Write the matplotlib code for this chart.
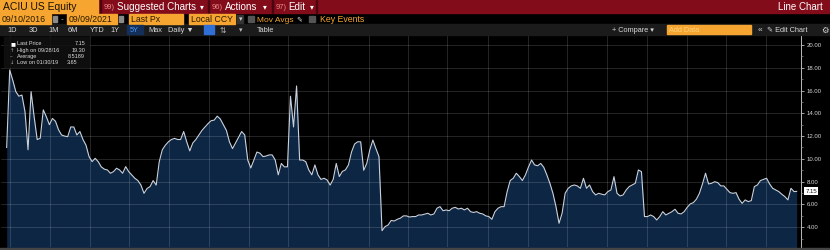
import matplotlib
matplotlib.use('Agg')
import matplotlib.pyplot as plt
import matplotlib.dates as mdates
from matplotlib.patches import Rectangle
from matplotlib.ticker import MultipleLocator
import pandas as pd

plt.rcParams['font.family'] = ['Liberation Sans', 'DejaVu Sans']

W, H = 830, 250

# weekly closes (Fridays), from IPO week to the last full week
weekly_close = [
    11.0, 17.8, 16.9, 15.9, 15.5, 15.6, 14.15, 10.8, 15.9, 13.7,
    11.7, 11.8, 14.3, 13.7, 13.0, 13.55, 13.3, 12.55, 12.1, 12.0,
    11.95, 12.8, 12.8, 12.1, 12.4, 11.7, 11.2, 10.2, 9.76, 10.05,
    9.76, 9.3, 9.1, 9.03, 8.74, 8.88, 9.18, 9.03, 8.74, 9.32,
    8.88, 8.59, 8.3, 8.1, 7.7, 6.98, 7.4, 7.57, 8.1, 7.7,
    9.76, 10.8, 11.2, 11.5, 11.7, 11.8, 11.7, 11.7, 12.4, 11.5,
    10.7, 11.4, 11.7, 12.1, 12.5, 12.8, 13.1, 13.35, 13.4, 13.75,
    13.5, 13.0, 12.5, 11.5, 10.9, 11.4, 11.9, 12.4, 12.1, 9.9,
    9.2, 9.9, 10.6, 10.5, 10.2, 10.25, 10.35, 10.35, 9.9, 8.6,
    9.6, 9.3, 9.3, 15.5, 12.8, 16.4, 9.9, 9.9, 9.76, 9.03,
    8.6, 9.47, 8.6, 8.2, 8.3, 8.15, 7.7, 8.2, 9.6, 8.45,
    8.9, 9.03, 9.47, 10.6, 11.3, 11.5, 11.5, 9.0, 9.6, 10.8,
    11.65, 10.9, 10.2, 3.7, 4.06, 4.2, 4.6, 4.55, 4.7, 4.8,
    5.0, 5.0, 4.9, 4.94, 4.94, 5.08, 5.08, 5.15, 5.23, 5.08,
    5.17, 5.67, 5.81, 5.45, 5.52, 5.45, 5.67, 5.75, 5.6, 5.67,
    5.52, 5.67, 5.37, 5.3, 5.37, 5.23, 5.17, 5.0, 4.94, 4.7,
    5.37, 5.67, 5.81, 5.81, 7.13, 8.1, 8.3, 8.74, 8.45, 8.1,
    8.6, 9.3, 9.9, 9.47, 9.4, 9.6, 9.26, 8.6, 7.86, 6.98,
    5.81, 4.35, 5.23, 6.98, 7.42, 7.63, 7.71, 7.63, 7.42, 8.3,
    7.42, 7.71, 7.13, 6.84, 6.98, 6.9, 6.84, 7.13, 7.27, 8.44,
    6.98, 6.75, 6.84, 7.27, 7.57, 7.71, 7.86, 9.03, 8.88, 4.94,
    4.94, 5.08, 4.94, 4.64, 4.94, 5.37, 5.08, 5.23, 5.37, 5.58,
    5.23, 5.17, 5.37, 5.75, 6.05, 6.16, 6.46, 6.98, 7.8, 8.74,
    7.8, 7.86, 8.0, 7.92, 7.63, 7.63, 7.33, 7.04, 6.98, 7.04,
    6.46, 6.1, 6.4, 6.25, 6.34, 7.57, 7.71, 8.1, 8.2, 8.3,
    7.8, 7.42, 7.27, 7.13, 6.9, 6.69, 6.4, 7.42, 7.13,
]
last_date = '2021-09-09'
last_price = 7.15

legend_rows = [
    ('Last Price', '7.15'),
    ('High on 09/28/16', '19.30'),
    ('Average', '8.5189'),
    ('Low on 01/30/19', '3.65'),
]
y_ticks = [4, 6, 8, 10, 12, 14, 16, 18, 20]

dates = list(pd.date_range('2016-09-23', periods=len(weekly_close), freq='7D'))
dates.append(pd.Timestamp(last_date))
prices = weekly_close + [last_price]

RED = '#820c1a'
ORANGE = '#f6a530'
FILL = '#0c2644'

fig = plt.figure(figsize=(W / 100, H / 100), dpi=100, facecolor='black')


def box(x0, y0, x1, y1, color, z=0):
    fig.patches.append(Rectangle((x0 / W, 1 - y1 / H), (x1 - x0) / W, (y1 - y0) / H,
                                 transform=fig.transFigure, color=color, zorder=z))


def txt(x, y, s, **kw):
    kw.setdefault('va', 'center_baseline')
    fig.text(x / W, 1 - y / H, s, **kw)


# ---- header rows
box(0, 0, W, 13, RED)
box(0, 0, 98, 13, ORANGE, 1)
txt(3, 6.5, 'ACIU US Equity', fontsize=7.5, color='#1a1000')
for x0 in (100, 208, 272, 316):
    box(x0, 0, x0 + 1, 13, '#4a0610', 1)
txt(104, 6.5, '99)', fontsize=5.5, color='#e88a8a')
txt(117, 6.5, 'Suggested Charts', fontsize=7.1, color='white')
txt(200, 6.5, '▾', fontsize=5.5, color='white')
txt(212, 6.5, '96)', fontsize=5.5, color='#e88a8a')
txt(225, 6.5, 'Actions', fontsize=7.1, color='white')
txt(263, 6.5, '▾', fontsize=5.5, color='white')
txt(276, 6.5, '97)', fontsize=5.5, color='#e88a8a')
txt(288, 6.5, 'Edit', fontsize=7.1, color='white')
txt(310, 6.5, '▾', fontsize=5.5, color='white')
txt(823, 6.5, 'Line Chart', fontsize=7, color='white', ha='right')

for x0, x1, s in [(0, 51, '09/10/2016'), (67, 117, '09/09/2021'),
                  (129, 183, 'Last Px'), (189, 235, 'Local CCY')]:
    box(x0, 14, x1, 24, ORANGE, 1)
    txt(x0 + 2, 19, s, fontsize=6.3, color='#2a1a00')
for x0 in (53, 119):
    box(x0, 16, x0 + 4, 22, '#8a8a8a', 1)
txt(61, 19, '-', fontsize=6, color='#bbbbbb')
box(237, 15, 243, 23, '#333333', 1)
txt(238.5, 19, '▾', fontsize=5, color='#cccccc')
box(248, 16, 254, 22, '#555555', 1)
txt(257, 19, 'Mov Avgs', fontsize=6, color=ORANGE)
txt(296, 19, '✎', fontsize=5, color='#dddddd', family='DejaVu Sans')
box(309, 16, 315, 22, '#555555', 1)
txt(320, 19, 'Key Events', fontsize=6.3, color=ORANGE)

box(0, 24.5, W, 34.5, '#1b1b1b')
for x, s in [(7, '1D'), (29, '3D'), (48, '1M'), (68, '6M'), (90, 'YTD'),
             (110, '1Y'), (148, 'Max'), (168, 'Daily ▼'), (257, 'Table')]:
    txt(x, 29.5, s, fontsize=5.3, color='#d8d8d8')
box(127, 25, 143, 34, '#14305a', 1)
txt(130, 29.5, '5Y', fontsize=5.3, color='#4a9bff')
box(204, 25.5, 214, 33.5, '#2f6fd6', 1)
txt(220, 29.5, '⇅', fontsize=5.5, color='#bbbbbb', family='DejaVu Sans')
txt(239, 29.5, '▾', fontsize=5, color='#bbbbbb')
txt(612, 29.5, '+ Compare ▾', fontsize=5.3, color='#d8d8d8')
box(667, 25.5, 751, 33.5, ORANGE, 1)
txt(669, 29.5, 'Add Data', fontsize=5.3, color='#ffd27a')
txt(758, 29.5, '«', fontsize=6, color='#d8d8d8')
txt(767, 29.5, '✎ Edit Chart', fontsize=5.3, color='#d8d8d8', family=['Liberation Sans', 'DejaVu Sans'])
txt(821, 29.5, '⚙', fontsize=6, color='#d8d8d8', family='DejaVu Sans')

# ---- chart
ax = fig.add_axes([1 / W, (H - 247) / H, 800 / W, (247 - 35) / H])
ax.set_facecolor('black')
ax.fill_between(dates, prices, 0, color=FILL, lw=0, zorder=1)
ax.plot(dates, prices, color='#c9d1dd', lw=0.8, zorder=3)

ax.set_ylim(2.27, 20.87)
ax.set_xlim(pd.Timestamp('2016-09-10'), pd.Timestamp('2021-09-19'))

ax.set_yticks(y_ticks)
ax.yaxis.set_major_formatter(matplotlib.ticker.FormatStrFormatter('%.2f'))
ax.yaxis.set_minor_locator(MultipleLocator(1))
ax.yaxis.tick_right()
ax.tick_params(axis='y', which='major', length=2.5, width=0.6, color='#bbbbbb',
               labelsize=4.3, labelcolor='#d6d6d6', pad=1.5)
ax.tick_params(axis='y', which='minor', length=1.5, width=0.5, color='#888888')
ax.xaxis.set_major_locator(mdates.MonthLocator(bymonth=[1, 4, 7, 10]))
ax.tick_params(axis='x', length=0, labelbottom=False)
ax.grid(True, color='white', alpha=0.17, lw=0.6, zorder=2)
ax.set_axisbelow(False)
for side in ('top', 'left', 'bottom'):
    ax.spines[side].set_visible(False)
ax.spines['right'].set_color('#bbbbbb')
ax.spines['right'].set_linewidth(0.7)

# last price tag
ax.annotate(f'{last_price:.2f}', xy=(1, last_price), xycoords=('axes fraction', 'data'),
            xytext=(3, 0), textcoords='offset points', va='center', ha='left',
            fontsize=4.3, color='#111111',
            bbox=dict(boxstyle='square,pad=0.25', fc='white', ec='none'))

# legend box
box(4, 37, 89, 67, '#111111', 5)
fig.patches[-1].set_alpha(0.85)
marks = ['■', '↑', '--', '↓']
for i, (label, val) in enumerate(legend_rows):
    y = 43.5 + i * 6.3
    txt(10, y, marks[i], fontsize=3.8, color='white' if i == 0 else '#aaaaaa',
        family='DejaVu Sans', zorder=6)
    txt(17, y, label, fontsize=4, color='#dddddd', zorder=6)
    if i < 3:
        txt(85, y, val, fontsize=4, color='#dddddd', ha='right', zorder=6)
    else:
        txt(67, y, val, fontsize=4, color='#dddddd', zorder=6)

box(0, 247.5, W, 250, '#454545', 1)

fig.savefig('out.png', dpi=100, facecolor='black')
